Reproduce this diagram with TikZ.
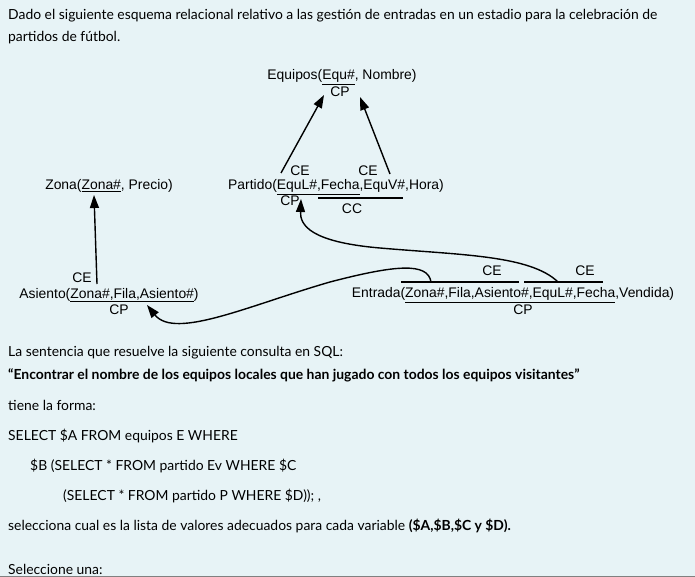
\documentclass[tikz,border=0pt]{standalone}
\usepackage{fontspec}
\setmainfont{Lato}
\newfontfamily\diagfont{Liberation Sans}
\usetikzlibrary{arrows.meta, positioning}
\definecolor{bgblue}{HTML}{E7F3F6}
\begin{document}
\begin{tikzpicture}[
    x=1pt, y=-1pt,
    rel/.style={font=\diagfont\fontsize{13.9}{16}\selectfont, inner sep=0pt},
    lbl/.style={font=\diagfont\fontsize{13.9}{16}\selectfont, inner sep=0pt},
    txt/.style={anchor=west, font=\fontsize{13.9}{16}\selectfont, inner sep=0pt},
    fk/.style={-{Triangle[length=13pt,width=9pt]}, line width=1.4pt},
    key/.style={line width=1.4pt}
]
\fill[bgblue] (0,0) rectangle (695,577);
\useasboundingbox (0,0) rectangle (695,577);

% enunciado
\node[txt] (intro1) at (8,16) {Dado el siguiente esquema relacional relativo a las gestión de entradas en un estadio para la celebración de};
\node[txt] (intro2) at (8,38) {partidos de fútbol.};

% relaciones
\node[rel] (equipos) at (342,77) {Equipos(\underline{Equ\#}, Nombre)};
\node[lbl] (cpeq) at (340,92) {CP};
\node[rel] (partido) at (336,187) {Partido(\underline{EquL\#,Fecha},EquV\#,Hora)};
\node[lbl] (cepl) at (300,171) {CE};
\node[lbl] (cepv) at (368,171) {CE};
\node[lbl] (cppa) at (290,201) {CP};
\node[lbl] (ccpa) at (352,209) {CC};
\node[rel] (zona) at (109,186) {Zona(\underline{Zona\#}, Precio)};
\node[rel] (asiento) at (109,295) {Asiento(\underline{Zona\#,Fila,Asiento\#})};
\node[lbl] (ceas) at (82,278) {CE};
\node[lbl] (cpas) at (119,310) {CP};
\node[rel] (entrada) at (513,295) {Entrada(\underline{Zona\#,Fila,Asiento\#,EquL\#,Fecha},Vendida)};
\node[lbl] (cpen) at (523,310) {CP};
\node[lbl] (ceen1) at (492,271) {CE};
\node[lbl] (ceen2) at (585,271) {CE};

% marcas de claves
\coordinate (cc1) at (318,198); \coordinate (cc2) at (403,198);
\coordinate (ka1) at (401,282); \coordinate (ka2) at (519,282);
\coordinate (kb1) at (524,282); \coordinate (kb2) at (603,282);
\draw[key] (cc1) -- (cc2);
\draw[key] (ka1) -- (ka2);
\draw[key] (kb1) -- (kb2);

% claves externas
\coordinate (pl) at (281,173); \coordinate (pv) at (390,174);
\coordinate (za) at (97,284);
\coordinate (ea) at (431,282); \coordinate (ep) at (558,282);
\draw[fk] (pl) -- (324,95);
\draw[fk] (pv) -- (360,97);
\draw[fk] (za) -- (94,195);
\draw[fk] (ea) .. controls (428,262) and (395,265) .. (330,282)
    .. controls (250,305) and (175,340) .. (147,305);
\draw[fk] (ep) .. controls (530,255) and (460,255) .. (380,248)
    .. controls (310,242) and (300,225) .. (301,199);

% consulta
\node[txt] (q1) at (8,353) {La sentencia que resuelve la siguiente consulta en SQL:};
\node[txt] (q2) at (8,375) {\bfseries “Encontrar el nombre de los equipos locales que han jugado con todos los equipos visitantes”};
\node[txt] (q3) at (8,405) {tiene la forma:};
\node[txt] (s1) at (8,436) {SELECT \$A FROM equipos E WHERE};
\node[txt] (s2) at (30,466) {\$B (SELECT * FROM partido Ev WHERE \$C};
\node[txt] (s3) at (63,496) {(SELECT * FROM partido P WHERE \$D)); ,};
\node[txt] (q4) at (8,526) {selecciona cual es la lista de valores adecuados para cada variable \textbf{(\$A,\$B,\$C y \$D).}};
\node[txt] (q5) at (8,569) {Seleccione una:};
\draw[gray] (0,576) -- (695,576);
\end{tikzpicture}
\end{document}
